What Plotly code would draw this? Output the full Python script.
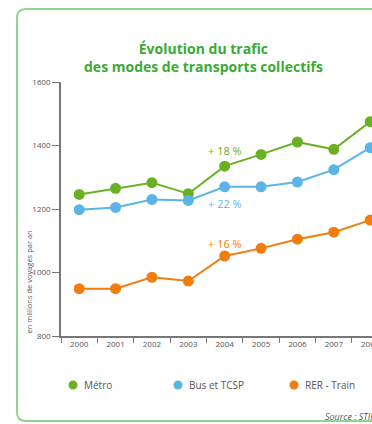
import plotly.graph_objects as go

# Trafic annuel (millions de voyages) par mode de transport
years = ["2000", "2001", "2002", "2003", "2004", "2005", "2006", "2007", "2008"]
metro = [1246, 1265, 1283, 1248, 1335, 1372, 1411, 1388, 1475]
bus_tcsp = [1198, 1205, 1230, 1227, 1270, 1270, 1285, 1324, 1393]
rer_train = [949, 949, 985, 973, 1052, 1076, 1105, 1127, 1165]

series_names = ["Métro", "Bus et TCSP", "RER - Train"]
growth_labels = ["+ 18 %", "+ 22 %", "+ 16 %"]
growth_y = [1383, 1216, 1090]
y_ticks = [800, 1000, 1200, 1400, 1600]

colors = ["#6ab023", "#5ab4e5", "#f07d0e"]
title_green = "#3aaa35"
frame_green = "#8fd48f"
text_grey = "#555555"

W, H = 372, 424
ML, MR, MT, MB = 61, 0, 82, 88
pw, ph = W - ML - MR, H - MT - MB


def px(x):
    return (x - ML) / pw


def py(y):
    return 1 - (y - MT) / ph


fig = go.Figure()
for name, vals, col in zip(series_names, [metro, bus_tcsp, rer_train], colors):
    fig.add_trace(go.Scatter(
        x=years, y=vals, mode="lines+markers", name=name,
        line=dict(color=col, width=2),
        marker=dict(color=col, size=11),
        showlegend=False, cliponaxis=False,
    ))

annotations = []
# Évolution 2000-2008, placée au niveau de 2004 (index de catégorie)
label_pos = years.index("2004")
for lab, yv, col in zip(growth_labels, growth_y, colors):
    annotations.append(dict(
        x=label_pos, y=yv, xref="x", yref="y", text=lab, showarrow=False,
        font=dict(family="Open Sans", size=11, color=col),
    ))

# Titre
annotations.append(dict(
    x=px(203), y=py(37), xref="paper", yref="paper",
    text="<b>Évolution du trafic<br>des modes de transports collectifs</b>",
    showarrow=False, align="center",
    font=dict(family="Open Sans", size=14, color=title_green),
))

# Titre de l'axe vertical
annotations.append(dict(
    x=px(28), y=py(336), xref="paper", yref="paper",
    text="en millions de voyages par an", textangle=-90,
    showarrow=False, xanchor="center", yanchor="bottom",
    font=dict(family="Open Sans", size=7.5, color=text_grey),
))

# Légende
shapes = []
legend_x = [73, 178, 294]
legend_y = 385
for name, col, lx in zip(series_names, colors, legend_x):
    r = 4.5
    shapes.append(dict(
        type="circle", xref="paper", yref="paper",
        x0=px(lx - r), x1=px(lx + r), y0=py(legend_y + r), y1=py(legend_y - r),
        fillcolor=col, line=dict(width=0),
    ))
    annotations.append(dict(
        x=px(lx + 9), y=py(legend_y), xref="paper", yref="paper",
        text=name, showarrow=False, xanchor="left", yanchor="middle",
        font=dict(family="Open Sans", size=10, color=text_grey),
    ))

# Source
annotations.append(dict(
    x=px(323), y=py(416), xref="paper", yref="paper",
    text="<i>Source : STIF</i>", showarrow=False,
    xanchor="left", yanchor="middle",
    font=dict(family="Open Sans", size=9, color=text_grey),
))

# Cadre arrondi
x0, y0, x1, y1, rad = 17, 9, 400, 421, 9
X0, Y0, X1, Y1 = px(x0), py(y0), px(x1), py(y1)
rx, ry = rad / pw, rad / ph
path = (f"M {X1},{Y0} L {X0 + rx},{Y0} Q {X0},{Y0} {X0},{Y0 - ry} "
        f"L {X0},{Y1 + ry} Q {X0},{Y1} {X0 + rx},{Y1} L {X1},{Y1}")
shapes.append(dict(type="path", xref="paper", yref="paper", path=path,
                   line=dict(color=frame_green, width=2), layer="below"))

fig.update_layout(
    width=W, height=H,
    margin=dict(l=ML, r=MR, t=MT, b=MB, autoexpand=False),
    paper_bgcolor="white", plot_bgcolor="white",
    annotations=annotations, shapes=shapes,
    xaxis=dict(
        type="category", range=[-0.5, 8.05], automargin=False,
        tickson="boundaries", ticks="outside", ticklen=5,
        tickcolor="#777777", showline=True, linecolor="#777777", linewidth=1.5,
        showgrid=False, zeroline=False,
        tickfont=dict(family="Open Sans", size=8, color=text_grey),
    ),
    yaxis=dict(
        range=[800, 1600], tickvals=y_ticks, automargin=False,
        ticks="outside", ticklen=7, tickcolor="#777777",
        showline=True, linecolor="#777777", linewidth=1.5,
        showgrid=False, zeroline=False,
        tickfont=dict(family="Open Sans", size=8, color=text_grey),
    ),
)

fig.write_html("out.html")
